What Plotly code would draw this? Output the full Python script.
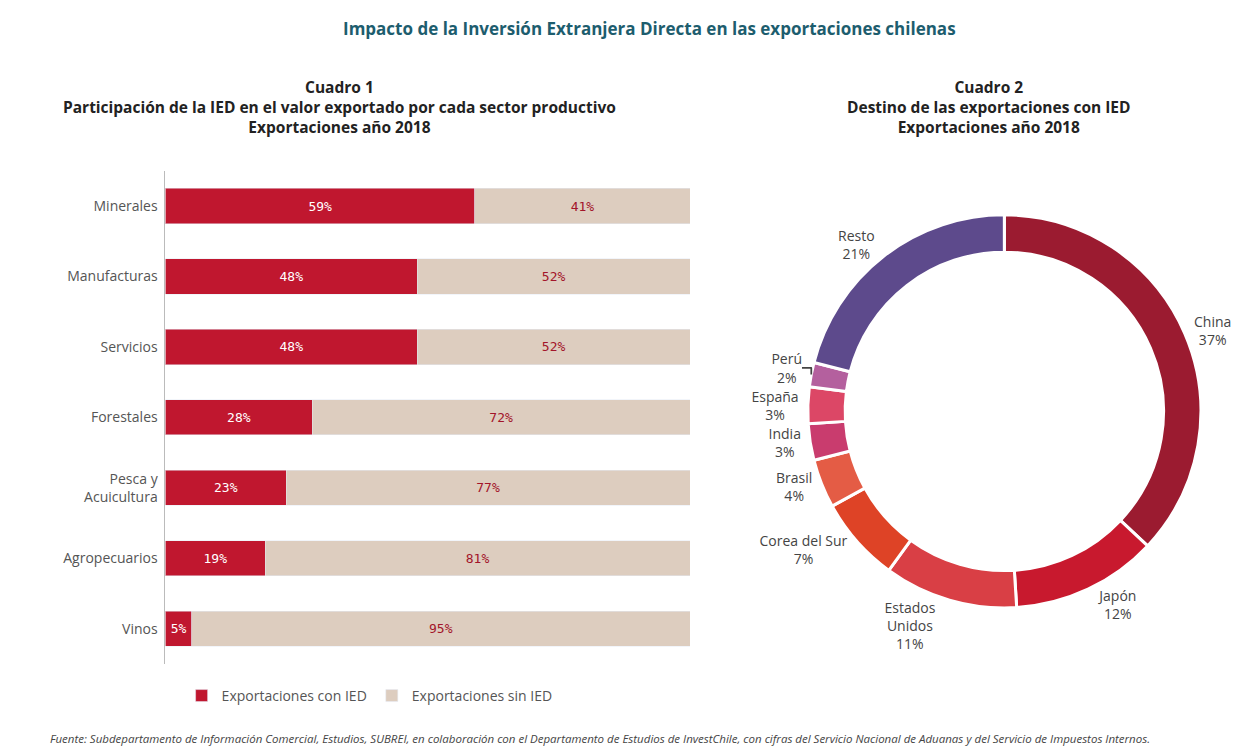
import plotly.graph_objects as go

sectores = ["Minerales", "Manufacturas", "Servicios", "Forestales", "Pesca y<br>Acuicultura", "Agropecuarios", "Vinos"]
con_ied = [59, 48, 48, 28, 23, 19, 5]
sin_ied = [41, 52, 52, 72, 77, 81, 95]

destinos = ["China", "Japón", "Estados<br>Unidos", "Corea del Sur", "Brasil", "India", "España", "Perú", "Resto"]
destino_pct = [37, 12, 11, 7, 4, 3, 3, 2, 21]
destino_col = ["#9b1b30", "#c8192e", "#d93f45", "#de4326", "#e45c45", "#c93c6e", "#dc4766", "#b4609e", "#5d4a8c"]

mono = "DejaVu Sans Mono"
fig = go.Figure()
fig.add_trace(go.Bar(y=sectores, x=con_ied, orientation="h", name="Exportaciones con IED",
                     marker_color="#c0172f", text=[f"{v}%" for v in con_ied],
                     textposition="inside", insidetextanchor="middle", constraintext="none",
                     textfont=dict(color="white", size=13, family=mono)))
fig.add_trace(go.Bar(y=sectores, x=sin_ied, orientation="h", name="Exportaciones sin IED",
                     marker_color="#ddcdbf", text=[f"{v}%" for v in sin_ied],
                     textposition="inside", insidetextanchor="middle", constraintext="none",
                     textfont=dict(color="#a3142a", size=13, family=mono)))
fig.add_trace(go.Pie(labels=destinos, values=destino_pct, sort=False, direction="clockwise",
                     rotation=0, hole=0.81, marker=dict(colors=destino_col, line=dict(color="white", width=3)),
                     texttemplate="%{label}<br>%{value}%", textposition="outside",
                     textfont=dict(size=14, color="#444"), showlegend=False,
                     domain=dict(x=[0.645, 0.962], y=[0.196, 0.724])))

fig.update_layout(
    width=1240, height=747, barmode="stack", bargap=0.5,
    margin=dict(l=0, r=0, t=0, b=0), paper_bgcolor="white", plot_bgcolor="white",
    font=dict(family="Open Sans", color="#444"),
    xaxis=dict(domain=[0.127, 0.55], range=[0, 100], visible=False),
    yaxis=dict(domain=[0.122, 0.782], autorange="reversed", showline=True, linecolor="#bbb",
               ticks="", tickfont=dict(size=14, color="#555"), ticklabelstandoff=4),
    legend=dict(orientation="h", x=0.14, y=0.079, xanchor="left", yanchor="middle",
                font=dict(size=14, color="#555"), traceorder="normal"),
)
ann = [
    dict(text="<b>Impacto de la Inversión Extranjera Directa en las exportaciones chilenas</b>", x=0.517, y=0.972,
         font=dict(size=17, color="#1d5d6e")),
    dict(text="<b>Cuadro 1</b><br><b>Participación de la IED en el valor exportado por cada sector productivo</b><br><b>Exportaciones año 2018</b>",
         x=0.267, y=0.867, font=dict(size=15.5, color="#222")),
    dict(text="<b>Cuadro 2</b><br><b>Destino de las exportaciones con IED</b><br><b>Exportaciones año 2018</b>",
         x=0.791, y=0.867, font=dict(size=15.5, color="#222")),
    dict(text="<i>Fuente: Subdepartamento de Información Comercial, Estudios, SUBREI, en colaboración con el Departamento de Estudios de InvestChile, con cifras del Servicio Nacional de Aduanas y del Servicio de Impuestos Internos.</i>",
         x=0.032, y=0.022, xanchor="left", font=dict(size=11.5, color="#444")),
]
for a in ann:
    a.update(xref="paper", yref="paper", showarrow=False, yanchor=a.get("yanchor", "middle"))
    a.setdefault("xanchor", "center")
    fig.add_annotation(**a)

fig.write_html("out.html")
